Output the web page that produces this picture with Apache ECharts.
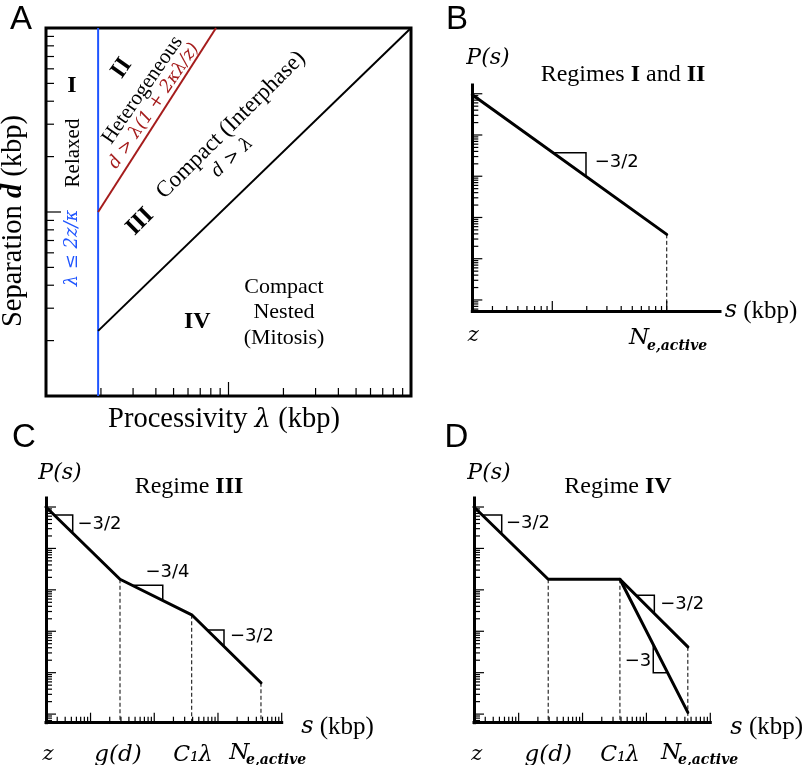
<!DOCTYPE html>
<html><head><meta charset="utf-8">
<script src="https://cdn.jsdelivr.net/npm/echarts@6/dist/echarts.min.js"></script>
<style>html,body{margin:0;padding:0;background:#fff}#main{width:802px;height:765px}</style>
</head><body><div id="main"></div>
<script>
// ---------------- DATA ----------------
// Panel A (regime diagram, log-log)
const aXRange = [1, 100];
const aYRange = [1, 100];
const aRelaxedBoundary = [[1.93, 1], [1.93, 100]];
const aHeteroBoundary = [[1.93, 10], [8.54, 100]];
const aCompactBoundary = [[1.93, 2.26], [100, 100]];
const aXMajorTicks = [10];
const aXMinorTicks = [2, 3, 4, 5, 6, 7, 8, 9, 20, 30, 40, 50, 60, 70, 80, 90];
const aYMajorTicks = [10];
const aYMinorTicks = [2, 3, 4, 5, 6, 7, 8, 9, 20, 30, 40, 50, 60, 70, 80, 90];

// Panel B (Regimes I and II)
const bXRange = [2, 292];
const bYRange = [0.54, 163000];
const bCurve = [[2, 95000], [100, 39]];
const bTriangle = [[10.2, 3700], [19.7, 3700], [19.7, 1000]];
const bDropPoints = [[100, 39]];
const bXMajorTicks = [10, 100];
const bXMinorTicks = [3, 4, 5, 6, 7, 8, 9, 20, 30, 40, 50, 60, 70, 80, 90];
const bYMajorTicks = [1, 10, 100, 1000, 10000, 100000];
const bYMinorTicks = [0.6, 0.7, 0.8, 0.9, 2, 3, 4, 5, 6, 7, 8, 9, 20, 30, 40, 50, 60, 70, 80, 90,
  200, 300, 400, 500, 600, 700, 800, 900, 2000, 3000, 4000, 5000, 6000, 7000, 8000, 9000,
  20000, 30000, 40000, 50000, 60000, 70000, 80000, 90000];

// Panel C (Regime III)
const cXRange = [2, 10000];
const cYRange = [0.62, 165000];
const cCurve = [[2, 100000], [29, 1800], [387, 250], [4730, 5.7]];
const cTriangle1 = [[2.7, 64000], [5.25, 64000], [5.25, 25000]];
const cTriangle2 = [[47, 1300], [136, 1300], [136, 560]];
const cTriangle3 = [[665, 108], [1243, 108], [1243, 43]];
const cDropPoints = [[29, 1800], [387, 250], [4730, 5.7]];

// Panel D (Regime IV)
const dXRange = [2, 10000];
const dYRange = [0.62, 165000];
const dCurveUpper = [[2, 100000], [29, 1800], [385, 1800], [4450, 42]];
const dCurveLower = [[385, 1800], [4450, 1.1]];
const dTriangle1 = [[2.69, 64000], [5.43, 64000], [5.43, 22500]];
const dTriangle2 = [[690, 740], [1330, 740], [1330, 280]];
const dTriangle3 = [[1280, 46], [1280, 10], [2076, 10]];
const dDropPoints = [[29, 1800], [385, 1800], [4450, 42]];

// shared tick values for C and D
const cdXMajorTicks = [10, 100, 1000, 10000];
const cdXMinorTicks = [3, 4, 5, 6, 7, 8, 9, 20, 30, 40, 50, 60, 70, 80, 90,
  200, 300, 400, 500, 600, 700, 800, 900, 2000, 3000, 4000, 5000, 6000, 7000, 8000, 9000];
const cdYMajorTicks = [1, 10, 100, 1000, 10000, 100000];
const cdYMinorTicks = [0.7, 0.8, 0.9, 2, 3, 4, 5, 6, 7, 8, 9, 20, 30, 40, 50, 60, 70, 80, 90,
  200, 300, 400, 500, 600, 700, 800, 900, 2000, 3000, 4000, 5000, 6000, 7000, 8000, 9000,
  20000, 30000, 40000, 50000, 60000, 70000, 80000, 90000];

// ---------------- STYLE ----------------
const SERIF = '"Liberation Serif","Times New Roman",serif';
const MATH = '"DejaVu Serif",serif';
const SANS = '"Liberation Sans",Arial,sans-serif';
const NUM = '"DejaVu Sans",sans-serif';
const BLUE = '#1f55ff';
const RED = '#a51c1c';
const deg = d => d * Math.PI / 180;

const chart = echarts.init(document.getElementById('main'), null, {renderer: 'canvas'});

function axis(idx, range, showLine) {
  return {
    type: 'log', logBase: 10, gridIndex: idx, min: range[0], max: range[1],
    axisLine: {show: showLine, onZero: false, lineStyle: {color: '#000', width: 3, cap: 'square'}},
    axisTick: {show: false}, axisLabel: {show: false}, splitLine: {show: false},
    minorTick: {show: false}, minorSplitLine: {show: false}
  };
}

function tickSeries(idx, xr, yr, xMaj, xMin, yMaj, yMin, L) {
  const data = [];
  xMin.forEach(v => data.push([v, yr[0], 0, 0]));
  xMaj.forEach(v => data.push([v, yr[0], 0, 1]));
  yMin.forEach(v => data.push([xr[0], v, 1, 0]));
  yMaj.forEach(v => data.push([xr[0], v, 1, 1]));
  return {
    type: 'custom', xAxisIndex: idx, yAxisIndex: idx, silent: true, clip: false, z: 5,
    animation: false, data,
    renderItem(params, api) {
      const p = api.coord([api.value(0), api.value(1)]);
      const isY = api.value(2) === 1, major = api.value(3) === 1;
      const len = isY ? (major ? L.yMaj : L.yMin) : (major ? L.xMaj : L.xMin);
      return {
        type: 'line',
        shape: isY ? {x1: p[0], y1: p[1], x2: p[0] + len, y2: p[1]}
                   : {x1: p[0], y1: p[1], x2: p[0], y2: p[1] - len},
        style: {stroke: '#000', lineWidth: L.w}
      };
    }
  };
}

function line(idx, data, style, z) {
  return {type: 'line', xAxisIndex: idx, yAxisIndex: idx, data, symbol: 'none', showSymbol: false,
    silent: true, animation: false, clip: false, z: z || 3, lineStyle: style};
}
const thick = {color: '#000', width: 3, cap: 'round', join: 'round'};
const tri = {color: '#000', width: 1.5, join: 'miter'};
const dash = {color: '#000', width: 1, type: [4, 2.5]};

function drops(idx, pts, yMin) {
  return pts.map(p => line(idx, [[p[0], p[1]], [p[0], yMin]], dash, 2));
}

const series = [
  tickSeries(0, aXRange, aYRange, aXMajorTicks, aXMinorTicks, aYMajorTicks, aYMinorTicks,
    {xMin: 8, xMaj: 14, yMin: 8, yMaj: 15, w: 1.2}),
  tickSeries(1, bXRange, bYRange, bXMajorTicks, bXMinorTicks, bYMajorTicks, bYMinorTicks,
    {xMin: 5, xMaj: 10, yMin: 6, yMaj: 10, w: 1.2}),
  tickSeries(2, cXRange, cYRange, cdXMajorTicks, cdXMinorTicks, cdYMajorTicks, cdYMinorTicks,
    {xMin: 6, xMaj: 10, yMin: 6, yMaj: 10, w: 1.2}),
  tickSeries(3, dXRange, dYRange, cdXMajorTicks, cdXMinorTicks, cdYMajorTicks, cdYMinorTicks,
    {xMin: 6, xMaj: 10, yMin: 6, yMaj: 10, w: 1.2}),
  line(0, aRelaxedBoundary, {color: BLUE, width: 2}),
  line(0, aHeteroBoundary, {color: RED, width: 2}),
  line(0, aCompactBoundary, {color: '#000', width: 2}),
  line(1, bCurve, thick),
  line(1, bTriangle, tri),
  ...drops(1, bDropPoints, bYRange[0]),
  line(2, cCurve, thick),
  line(2, cTriangle1, tri), line(2, cTriangle2, tri), line(2, cTriangle3, tri),
  ...drops(2, cDropPoints, cYRange[0]),
  line(3, dCurveUpper, thick),
  line(3, dCurveLower, thick),
  line(3, dTriangle1, tri), line(3, dTriangle2, tri), line(3, dTriangle3, tri),
  ...drops(3, dDropPoints, dYRange[0])
];

// ---------------- TEXT ----------------
function T(x, y, text, font, opt) {
  opt = opt || {};
  const style = {text, font, fill: opt.fill || '#000',
    align: opt.align || 'center', verticalAlign: 'middle',
    textAlign: opt.align || 'center', textVerticalAlign: 'middle'};
  if (opt.rich) style.rich = opt.rich;
  return {type: 'text', x, y, rotation: opt.rot || 0, silent: true, z: 100, style};
}
const richSerif = (size) => ({
  r: {fontSize: size, fontFamily: SERIF},
  b: {fontSize: size, fontFamily: SERIF, fontWeight: 'bold'},
  i: {fontSize: size, fontFamily: MATH, fontStyle: 'italic'},
  d: {fontSize: size, fontFamily: SERIF, fontStyle: 'italic', fontWeight: 'bold'}
});
const sKbp = {rich: {i: {fontSize: 24, fontFamily: MATH, fontStyle: 'italic'}, r: {fontSize: 25, fontFamily: SERIF}}};

const texts = [
  // panel letters
  T(21, 20, 'A', '33px ' + SANS), T(457, 20, 'B', '33px ' + SANS),
  T(24, 438, 'C', '33px ' + SANS), T(456.5, 438, 'D', '33px ' + SANS),
  // panel A
  T(14, 221, '{r|Separation }{d|d}{r| (kbp)}', '28.5px ' + SERIF, {rot: deg(90), rich: richSerif(28.5)}),
  T(224, 420, '{r|Processivity }{i|λ}{r| (kbp)}', '28.5px ' + SERIF,
    {rich: Object.assign(richSerif(28.5), {i: {fontSize: 26, fontFamily: MATH, fontStyle: 'italic'}})}),
  T(72, 86, 'I', 'bold 24px ' + SERIF),
  T(121.7, 68.3, 'II', 'bold 24px ' + SERIF, {rot: deg(55)}),
  T(140, 221.7, 'III', 'bold 24px ' + SERIF, {rot: deg(45)}),
  T(197.3, 321.7, 'IV', 'bold 24px ' + SERIF),
  T(73, 153, 'Relaxed', '21px ' + SERIF, {rot: deg(90)}),
  T(72, 248, 'λ ≤ 2z/κ', 'italic 18px ' + MATH, {rot: deg(90), fill: BLUE}),
  T(142.5, 90, 'Heterogeneous', '21px ' + SERIF, {rot: deg(55.3)}),
  T(154, 106, 'd > λ(1 + 2κλ/z)', 'italic 17.5px ' + MATH, {rot: deg(55.8), fill: RED}),
  T(231, 125, 'Compact (Interphase)', '23px ' + SERIF, {rot: deg(44.7)}),
  T(232.5, 157.5, 'd > λ', 'italic 18px ' + MATH, {rot: deg(43)}),
  T(284, 287, 'Compact', '22px ' + SERIF),
  T(284, 312, 'Nested', '22px ' + SERIF),
  T(284, 338, '(Mitosis)', '22px ' + SERIF),
  // panel B
  T(488, 58, 'P(s)', 'italic 22px ' + MATH),
  T(623, 75, '{r|Regimes }{b|I}{r| and }{b|II}', '24px ' + SERIF, {rich: richSerif(24)}),
  T(616.7, 162.5, '−3/2', '18px ' + NUM),
  T(761, 311, '{i|s}{r| (kbp)}', '25px ' + SERIF, sKbp),
  T(473.3, 336, 'z', 'italic 21px ' + MATH),
  T(629, 338, 'N', 'italic 23px ' + MATH, {align: 'left'}),
  T(647, 346, 'e,active', 'italic bold 14px ' + MATH, {align: 'left'}),
  // panel C
  T(60, 473, 'P(s)', 'italic 22px ' + MATH),
  T(189, 487, '{r|Regime }{b|III}', '24px ' + SERIF, {rich: richSerif(24)}),
  T(99.5, 524, '−3/2', '18px ' + NUM),
  T(167.5, 572.5, '−3/4', '18px ' + NUM),
  T(252, 636.7, '−3/2', '18px ' + NUM),
  T(337.5, 727, '{i|s}{r| (kbp)}', '25px ' + SERIF, sKbp),
  T(48, 755, 'z', 'italic 21px ' + MATH),
  T(118, 755, 'g(d)', 'italic 23px ' + MATH),
  T(193, 755, 'C₁λ', 'italic 22px ' + MATH),
  T(229.3, 753, 'N', 'italic 23px ' + MATH, {align: 'left'}),
  T(246, 760, 'e,active', 'italic bold 14px ' + MATH, {align: 'left'}),
  // panel D
  T(489, 473, 'P(s)', 'italic 22px ' + MATH),
  T(618, 487, '{r|Regime }{b|IV}', '24px ' + SERIF, {rich: richSerif(24)}),
  T(528, 523.3, '−3/2', '18px ' + NUM),
  T(682.3, 604, '−3/2', '18px ' + NUM),
  T(638, 661, '−3', '18px ' + NUM),
  T(766.7, 727.5, '{i|s}{r| (kbp)}', '25px ' + SERIF, sKbp),
  T(476.7, 755, 'z', 'italic 21px ' + MATH),
  T(548.3, 755, 'g(d)', 'italic 23px ' + MATH),
  T(620, 755, 'C₁λ', 'italic 22px ' + MATH),
  T(661, 753, 'N', 'italic 23px ' + MATH, {align: 'left'}),
  T(678, 760, 'e,active', 'italic bold 14px ' + MATH, {align: 'left'})
];

chart.setOption({
  animation: false,
  backgroundColor: '#fff',
  grid: [
    {left: 46, top: 28, width: 365, height: 368, show: true, borderColor: '#000', borderWidth: 3, backgroundColor: 'transparent'},
    {left: 472.3, top: 85, width: 247.7, height: 226},
    {left: 46, top: 498, width: 235.7, height: 224.7},
    {left: 474, top: 498, width: 236.3, height: 224.7}
  ],
  xAxis: [axis(0, aXRange, false), axis(1, bXRange, true), axis(2, cXRange, true), axis(3, dXRange, true)],
  yAxis: [axis(0, aYRange, false), axis(1, bYRange, true), axis(2, cYRange, true), axis(3, dYRange, true)],
  series,
  graphic: {elements: texts}
});
</script></body></html>
